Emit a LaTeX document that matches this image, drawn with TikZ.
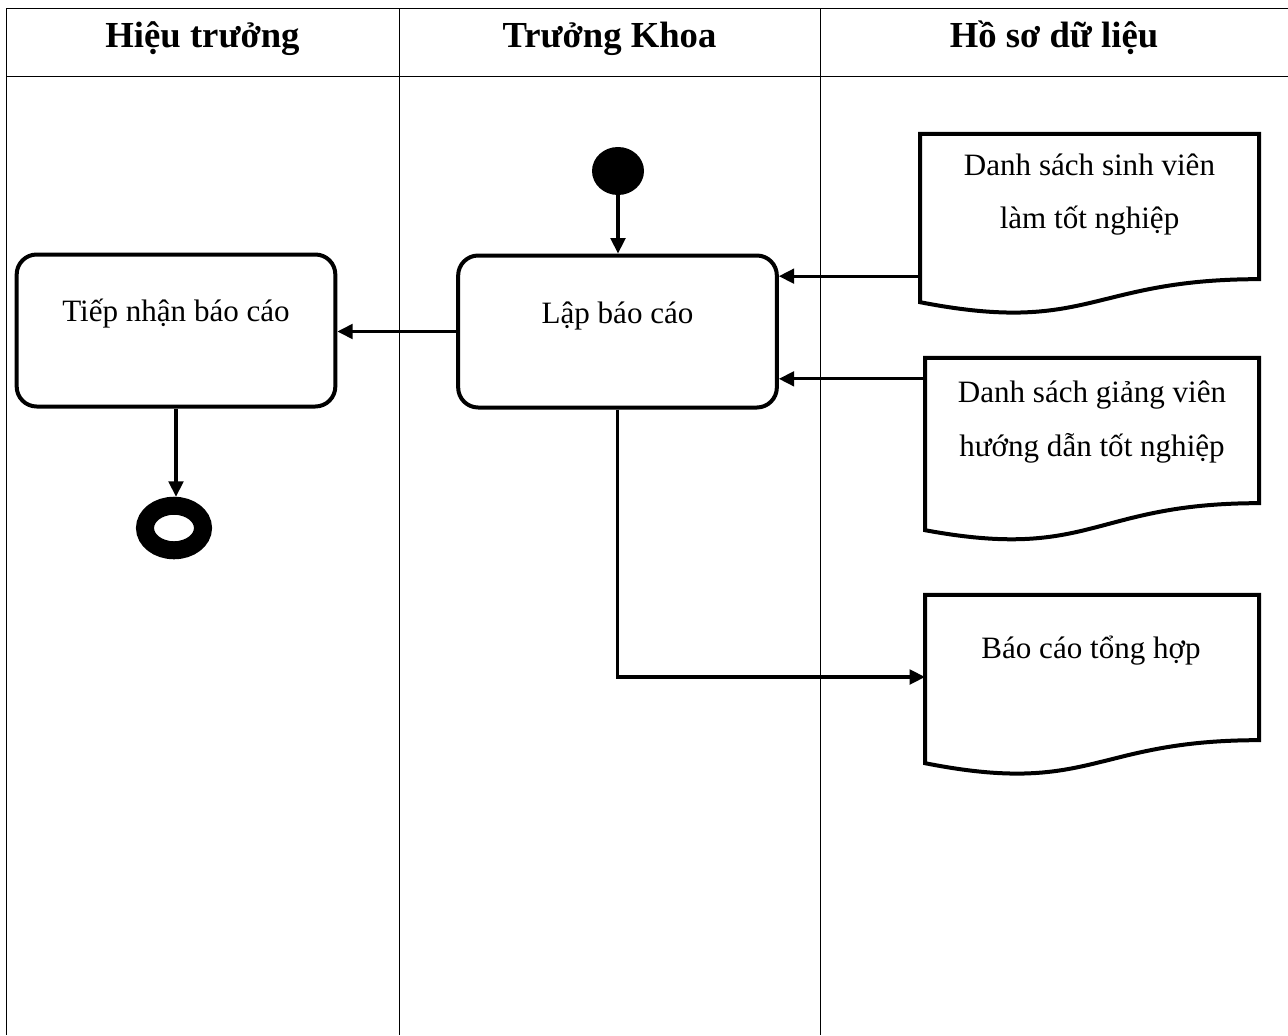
\documentclass[tikz,border=0pt]{standalone}
\usepackage{fontspec}
\setmainfont{Liberation Serif}
\usetikzlibrary{arrows.meta,calc,shapes.geometric}
\begin{document}
\begin{tikzpicture}[x=0.75pt,y=-0.75pt,
  laneline/.style={line width=0.7pt},
  head/.style={font=\fontsize{27.5}{32}\selectfont\bfseries, anchor=base, inner sep=0},
  txt/.style={font=\fontsize{23.3}{28}\selectfont, anchor=base, inner sep=0},
  actbox/.style={draw, line width=3pt, rounded corners=15pt, minimum width=239pt, minimum height=114pt, inner sep=0},
  docnode/.style={draw=none, inner sep=0, outer sep=0, minimum height=109pt},
  docline/.style={line width=3pt, line join=miter},
  arr/.style={line width=2.3pt, -{Triangle[length=11.5pt,width=11pt]}},
]
\useasboundingbox (0,0) rectangle (1288,1035);
% swimlane table
\draw[laneline] (6,8) -- (1288,8);
\draw[laneline] (6,76) -- (1288,76);
\draw[laneline] (6,8) -- (6,1035);
\draw[laneline] (399,8) -- (399,1035);
\draw[laneline] (820,8) -- (820,1035);
\node[head] (h1) at (202.5,47) {Hiệu trưởng};
\node[head] (h2) at (609.5,47) {Trưởng Khoa};
\node[head] (h3) at (1054,47) {Hồ sơ dữ liệu};

% start / end
\node[ellipse, fill=black, inner sep=0, minimum width=39pt, minimum height=36pt] (start) at (618,171) {};
\node[ellipse, draw, line width=13.5pt, inner sep=0, minimum width=43.5pt, minimum height=33.4pt] (end) at (174,528) {};

% activities
\node[actbox] (tn) at (176,330.5) {};
\node[txt] (tnT) at (176,321) {Tiếp nhận báo cáo};
\node[actbox] (lap) at (617.5,331.5) {};
\node[txt] (lapT) at (617.5,323) {Lập báo cáo};

% documents
\node[docnode, minimum width=254.25pt] (d1) at (1089.5,206.5) {};
\node[docnode, minimum width=250.5pt] (d2) at (1092,430.5) {};
\node[docnode, minimum width=250.5pt] (d3) at (1092,667.5) {};
\foreach \d/\dl/\dm in {d1/23/56, d2/27/58, d3/23/56}{
  \draw[docline] (\d.south east) -- (\d.north east) -- (\d.north west)
    -- ($(\d.south west)+(0,\dl)$)
    .. controls ($(\d.south)+(0,\dm)$) and (\d.south) .. (\d.south east) -- cycle;
}
\node[txt] (d1a) at (1089.5,175) {Danh sách sinh viên};
\node[txt] (d1b) at (1089.5,228) {làm tốt nghiệp};
\node[txt] (d2a) at (1092,402) {Danh sách giảng viên};
\node[txt] (d2b) at (1092,456) {hướng dẫn tốt nghiệp};
\node[txt] (d3a) at (1091,658) {Báo cáo tổng hợp};

% connectors
\draw[arr] (start.south) -- (start.south |- lap.north);
\draw[arr] (lap.west) -- (lap.west -| tn.east);
\draw[arr] (tn.south) -- (tn.south |- end.north);
\coordinate (c1) at ($(d1.south west)+(0,-3)$);
\coordinate (c2) at ($(d2.north west)+(0,21)$);
\coordinate (c3) at ($(d3.west)+(0,9.5)$);
\draw[arr] (c1) -- (c1 -| lap.east);
\draw[arr] (c2) -- (c2 -| lap.east);
\draw[arr] (lap.south) |- (c3);
\end{tikzpicture}
\end{document}
